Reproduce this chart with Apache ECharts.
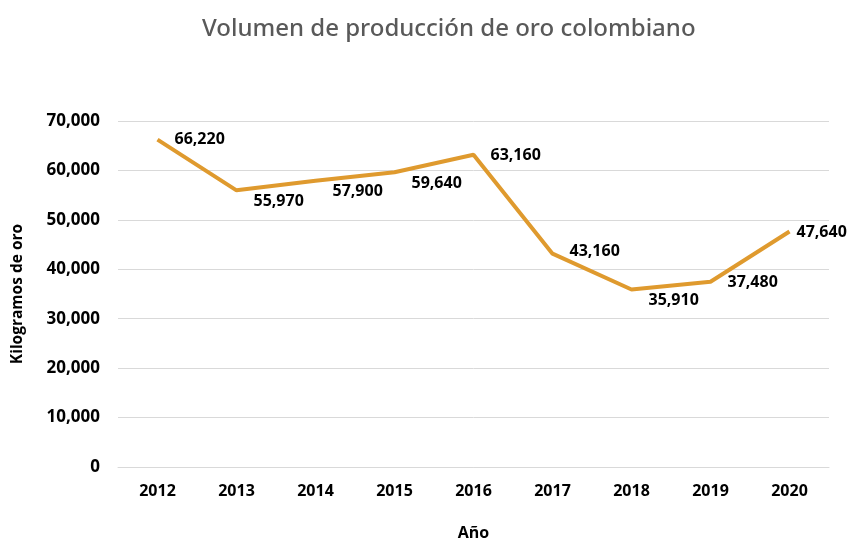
<!DOCTYPE html>
<html>
<head>
<meta charset="utf-8">
<script src="https://cdn.jsdelivr.net/npm/echarts@6/dist/echarts.min.js"></script>
<style>
  html, body { margin: 0; padding: 0; background: #fff; }
  #chart { width: 849px; height: 542px; }
</style>
</head>
<body>
<div id="chart"></div>
<script>
  var years = ['2012', '2013', '2014', '2015', '2016', '2017', '2018', '2019', '2020'];
  var kilos = [66220, 55970, 57900, 59640, 63160, 43160, 35910, 37480, 47640];
  // desplazamiento de cada etiqueta (como en el original)
  var labelOffsets = [[0, 0], [0, 11], [0, 11], [0, 11], [0, 1], [0, -2], [0, 11], [0, 1], [-10, 1]];

  var chart = echarts.init(document.getElementById('chart'));
  var txt = { fontFamily: 'Open Sans', fontWeight: 'bold', fontSize: 16, color: '#000' };

  chart.setOption({
    animation: false,
    title: {
      text: 'Volumen de producción de oro colombiano',
      left: 197, top: 12,
      textStyle: { fontFamily: 'Noto Sans', fontWeight: 500, fontSize: 24, color: '#595959' }
    },
    grid: { left: 118, right: 20, top: 121, bottom: 75, outerBoundsMode: 'none' },
    xAxis: {
      type: 'category',
      data: years,
      name: 'Año', nameLocation: 'middle', nameGap: 58,
      nameTextStyle: txt,
      axisLine: { lineStyle: { color: '#d9d9d9' } },
      axisTick: { show: false },
      axisLabel: Object.assign({ margin: 16 }, txt)
    },
    yAxis: {
      type: 'value', min: 0, max: 70000, interval: 10000,
      name: 'Kilogramos de oro', nameLocation: 'middle', nameGap: 92,
      nameTextStyle: Object.assign({}, txt, { fontSize: 15.5 }),
      axisLabel: Object.assign({ margin: 18, formatter: function (v) { return v.toLocaleString('en-US'); } },
        txt, { fontSize: 17 }),
      splitLine: { lineStyle: { color: '#d9d9d9' } }
    },
    series: [{
      type: 'line',
      data: kilos.map(function (v, i) {
        return { value: v, label: { offset: labelOffsets[i] } };
      }),
      symbol: 'circle', symbolSize: 0, showSymbol: true,
      lineStyle: { color: '#DF9A2E', width: 4 },
      itemStyle: { color: '#DF9A2E' },
      label: Object.assign({
        show: true, position: 'right', distance: 17,
        formatter: function (p) { return p.value.toLocaleString('en-US'); }
      }, txt)
    }]
  });
</script>
</body>
</html>
